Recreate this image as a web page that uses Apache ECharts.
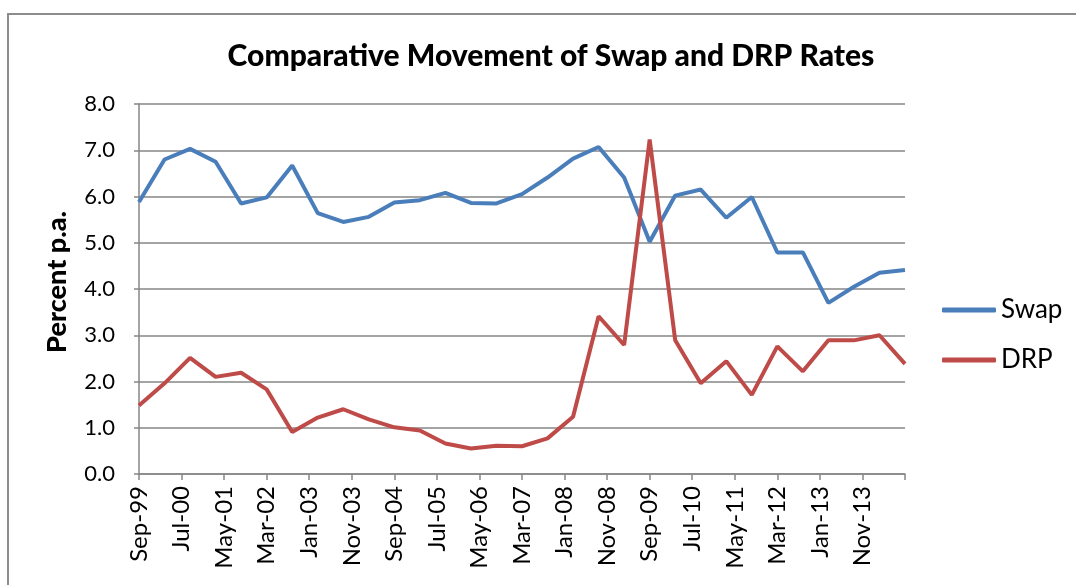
<!DOCTYPE html>
<html>
<head>
<meta charset="utf-8">
<title>Comparative Movement of Swap and DRP Rates</title>
<script src="https://cdn.jsdelivr.net/npm/echarts@6/dist/echarts.min.js"></script>
<style>
  html, body { margin: 0; padding: 0; background: #fff; }
  #chart { width: 1076px; height: 585px; }
</style>
</head>
<body>
<div id="chart"></div>
<script>
// half-yearly observations
var pointDates = [
  "Sep-99", "Mar-00", "Sep-00", "Mar-01", "Sep-01", "Mar-02", "Sep-02", "Mar-03",
  "Sep-03", "Mar-04", "Sep-04", "Mar-05", "Sep-05", "Mar-06", "Sep-06", "Mar-07",
  "Sep-07", "Mar-08", "Sep-08", "Mar-09", "Sep-09", "Mar-10", "Sep-10", "Mar-11",
  "Sep-11", "Mar-12", "Sep-12", "Mar-13", "Sep-13", "Mar-14", "Sep-14"
];
var swapData = [
  5.88, 6.80, 7.03, 6.75, 5.85, 5.98, 6.67, 5.64,
  5.45, 5.56, 5.87, 5.92, 6.08, 5.86, 5.85, 6.05,
  6.41, 6.82, 7.07, 6.41, 5.02, 6.02, 6.15, 5.54,
  5.99, 4.79, 4.79, 3.70, 4.05, 4.35, 4.41
];
var drpData = [
  1.48, 1.96, 2.51, 2.10, 2.19, 1.83, 0.91, 1.22,
  1.40, 1.18, 1.01, 0.94, 0.66, 0.55, 0.61, 0.60,
  0.77, 1.24, 3.41, 2.79, 7.23, 2.89, 1.96, 2.44,
  1.71, 2.76, 2.22, 2.89, 2.89, 3.00, 2.38
];
// x axis tick labels, one every 10 months
var tickLabels = [
  "Sep-99", "Jul-00", "May-01", "Mar-02", "Jan-03", "Nov-03", "Sep-04", "Jul-05",
  "May-06", "Mar-07", "Jan-08", "Nov-08", "Sep-09", "Jul-10", "May-11", "Mar-12",
  "Jan-13", "Nov-13"
];
var yTicks = [0, 1, 2, 3, 4, 5, 6, 7, 8];

var monthNames = ["Jan", "Feb", "Mar", "Apr", "May", "Jun", "Jul", "Aug", "Sep", "Oct", "Nov", "Dec"];
// months since Sep-99
function monthOffset(s) {
  var parts = s.split("-");
  var yr = 1900 + parseInt(parts[1], 10);
  if (yr < 1950) yr += 100;
  return (yr - 1999) * 12 + monthNames.indexOf(parts[0]) - 8;
}
function toPoints(vals) {
  return vals.map(function (v, i) {
    return [monthOffset(pointDates[i]), v];
  });
}

var font = "Lato, 'Open Sans', sans-serif";
var axisGrey = "#868686";

var chart = echarts.init(document.getElementById("chart"));
var option = {
  animation: false,
  textStyle: { fontFamily: font, color: "#000" },
  graphic: [{
    type: "rect",
    shape: { x: 8, y: 14, width: 1200, height: 700 },
    style: { fill: "none", stroke: "#8c8c8c", lineWidth: 2 },
    silent: true
  }],
  title: {
    text: "Comparative Movement of Swap and DRP Rates",
    left: 546,
    textAlign: "center",
    top: 36,
    textStyle: { fontFamily: font, fontSize: 30, fontWeight: 900, color: "#000" }
  },
  legend: {
    orient: "vertical",
    left: 937,
    top: 292,
    icon: "roundRect",
    itemWidth: 54,
    itemHeight: 5,
    itemGap: 24,
    textStyle: { fontFamily: font, fontSize: 26, color: "#000" },
    data: ["Swap", "DRP"]
  },
  grid: { left: 139, right: 171, top: 104, bottom: 111 },
  xAxis: {
    type: "value",
    min: 0,
    max: 180,
    interval: 10,
    splitLine: { show: false },
    axisLine: { lineStyle: { color: axisGrey, width: 1.5 } },
    axisTick: { show: true, length: 6, lineStyle: { color: axisGrey, width: 1.5 } },
    axisLabel: {
      rotate: 90,
      fontFamily: font,
      fontSize: 24,
      color: "#000",
      margin: 12,
      showMaxLabel: true,
      formatter: function (v) {
        var i = Math.round(v / 10);
        return tickLabels[i] || "";
      }
    }
  },
  yAxis: {
    type: "value",
    min: yTicks[0],
    max: yTicks[yTicks.length - 1],
    interval: 1,
    name: "Percent p.a.",
    nameLocation: "middle",
    nameGap: 68,
    nameTextStyle: { fontFamily: font, fontSize: 27, fontWeight: 900, color: "#000", padding: [0, 0, 0, 14] },
    axisLine: { show: true, lineStyle: { color: axisGrey, width: 1.5 } },
    axisTick: { show: true, length: 5, lineStyle: { color: axisGrey, width: 1.5 } },
    splitLine: { lineStyle: { color: axisGrey, width: 1.5 } },
    axisLabel: {
      fontFamily: font,
      fontSize: 22,
      color: "#000",
      margin: 24,
      formatter: function (v) { return v.toFixed(1); }
    }
  },
  series: [
    {
      name: "Swap",
      type: "line",
      data: toPoints(swapData),
      showSymbol: false,
      symbol: "none",
      color: "#4a7ebb",
      lineStyle: { width: 4, color: "#4a7ebb" }
    },
    {
      name: "DRP",
      type: "line",
      data: toPoints(drpData),
      showSymbol: false,
      symbol: "none",
      color: "#be4b48",
      lineStyle: { width: 4, color: "#be4b48" }
    }
  ]
};
chart.setOption(option);
</script>
</body>
</html>
